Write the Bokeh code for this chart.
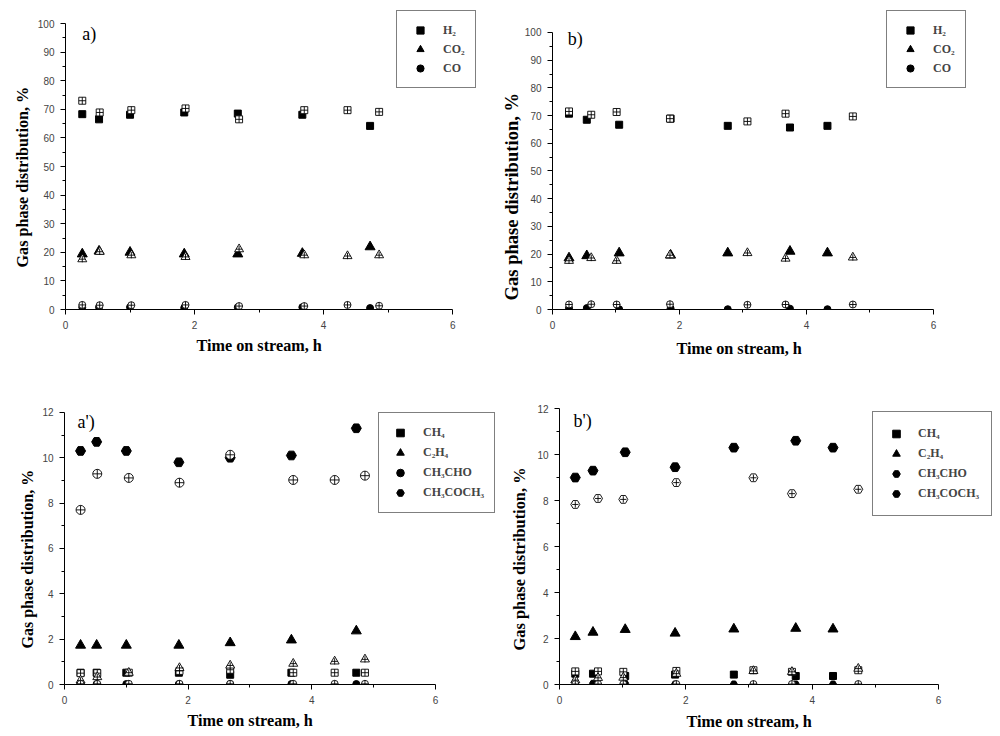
from bokeh.plotting import figure
from bokeh.models import FixedTicker, Legend, LegendItem, Label, Range1d, Title
from bokeh.layouts import row, column
from bokeh.embed import file_html
from bokeh.resources import INLINE

# ---------------- Panel a) ----------------
a_time_filled = [0.26, 0.52, 1.00, 1.84, 2.67, 3.67, 4.72]
a_H2_filled = [68.3, 66.5, 68.1, 68.9, 68.5, 68.1, 64.2]
a_CO2_filled = [19.4, 20.4, 20.0, 19.4, 19.4, 19.6, 21.9]
a_CO_filled = [0.8, 0.8, 0.8, 0.6, 0.8, 0.8, 0.5]
a_time_open = [0.26, 0.53, 1.02, 1.86, 2.69, 3.70, 4.37, 4.86]
a_H2_open = [73.0, 68.9, 69.7, 70.3, 66.5, 69.7, 69.7, 69.1]
a_CO2_open = [17.6, 20.2, 19.0, 18.4, 21.1, 19.0, 18.7, 19.0]
a_CO_open = [1.6, 1.5, 1.5, 1.6, 1.2, 1.2, 1.6, 1.3]

# ---------------- Panel b) ----------------
b_time_filled = [0.26, 0.54, 1.05, 1.86, 2.76, 3.74, 4.33]
b_H2_filled = [70.7, 68.5, 66.7, 68.9, 66.3, 65.7, 66.3]
b_CO2_filled = [18.6, 19.4, 20.4, 19.6, 20.4, 21.0, 20.4]
b_CO_filled = [0.5, 0.5, 0.1, 0.4, 0.1, 0.3, 0.1]
b_time_open = [0.26, 0.61, 1.01, 1.85, 3.07, 3.67, 4.73]
b_H2_open = [71.5, 70.3, 71.3, 68.9, 67.9, 70.7, 69.7]
b_CO2_open = [17.6, 18.6, 17.6, 19.6, 20.4, 18.4, 18.8]
b_CO_open = [1.8, 1.9, 1.8, 1.9, 1.7, 1.8, 1.8]

# ---------------- Panel a') ----------------
c_time_filled = [0.26, 0.52, 1.00, 1.85, 2.68, 3.67, 4.72]
c_CH4_filled = [0.52, 0.52, 0.52, 0.52, 0.43, 0.52, 0.52]
c_C2H4_filled = [1.73, 1.73, 1.73, 1.73, 1.84, 1.96, 2.36]
c_CH3CHO_filled = [0.05, 0.02, 0.02, 0.02, 0.02, 0.02, 0.02]
c_CH3COCH3_filled = [10.3, 10.7, 10.3, 9.8, 10.0, 10.1, 11.3]
c_time_open = [0.26, 0.53, 1.04, 1.86, 2.68, 3.70, 4.37, 4.86]
c_CH4_open = [0.50, 0.50, 0.52, 0.60, 0.65, 0.52, 0.52, 0.52]
c_C2H4_open = [0.18, 0.33, 0.52, 0.73, 0.84, 0.92, 1.02, 1.11]
c_CH3CHO_open = [0.03, 0.03, 0.03, 0.03, 0.03, 0.03, 0.03, 0.03]
c_CH3COCH3_open = [7.70, 9.29, 9.11, 8.90, 10.13, 9.02, 9.02, 9.21]

# ---------------- Panel b') ----------------
d_time_filled = [0.25, 0.53, 1.04, 1.83, 2.76, 3.74, 4.33]
d_CH4_filled = [0.47, 0.47, 0.37, 0.43, 0.43, 0.37, 0.37]
d_C2H4_filled = [2.08, 2.27, 2.39, 2.23, 2.41, 2.44, 2.41]
d_CH3CHO_filled = [0.10, 0.05, 0.05, 0.02, 0.02, 0.02, 0.02]
d_CH3COCH3_filled = [9.00, 9.30, 10.10, 9.45, 10.30, 10.60, 10.30]
d_time_open = [0.25, 0.61, 1.01, 1.85, 3.07, 3.68, 4.73]
d_CH4_open = [0.57, 0.57, 0.55, 0.59, 0.62, 0.55, 0.62]
d_C2H4_open = [0.19, 0.29, 0.30, 0.47, 0.59, 0.55, 0.69]
d_CH3CHO_open = [0.02, 0.02, 0.02, 0.02, 0.02, 0.02, 0.02]
d_CH3COCH3_open = [7.83, 8.09, 8.05, 8.78, 8.99, 8.30, 8.49]

x_ticks = [0, 2, 4, 6]
x_minor = [1, 3, 5]
top_y_ticks = list(range(0, 101, 10))
top_y_minor = list(range(5, 100, 10))
bot_y_ticks = [0, 2, 4, 6, 8, 10, 12]
bot_y_minor = [1, 3, 5, 7, 9, 11]

labels_top = ["H\u2082", "CO\u2082", "CO"]
labels_bot = ["CH\u2084", "C\u2082H\u2084", "CH\u2083CHO", "CH\u2083COCH\u2083"]
x_title = "Time on stream, h"
y_title = "Gas phase distribution, %"

SERIF = "Liberation Serif"
SANS = "Liberation Sans"


def make_fig(w, h, xend, yend, ymax, yt, ym, borders, xt, yt_):
    l, r, t, b = borders
    p = figure(width=w, height=h, output_backend="svg", toolbar_location=None,
               x_range=Range1d(0, xend), y_range=Range1d(0, yend),
               min_border_left=l, min_border_right=r, min_border_top=t,
               min_border_bottom=b)
    p.grid.visible = False
    p.outline_line_color = None
    p.background_fill_color = "white"
    p.border_fill_color = "white"
    p.xaxis.ticker = FixedTicker(ticks=x_ticks, minor_ticks=x_minor)
    p.yaxis.ticker = FixedTicker(ticks=yt, minor_ticks=ym)
    p.xaxis.bounds = (0, 6)
    p.yaxis.bounds = (0, ymax)
    for ax in (p.xaxis, p.yaxis):
        ax.axis_line_color = "black"
        ax.axis_line_width = 1
        ax.major_tick_in = 0
        ax.major_tick_out = 5
        ax.minor_tick_in = 0
        ax.minor_tick_out = 3
        ax.major_tick_line_color = "black"
        ax.minor_tick_line_color = "black"
        ax.major_label_text_font = SANS
        ax.major_label_text_font_size = "10px"
        ax.major_label_text_color = "#444444"
    p.xaxis.major_label_standoff = 6
    p.yaxis.major_label_standoff = 6
    # x title: (offset from frame left, standoff, font size)
    p.add_layout(Title(text=x_title, align="left", offset=xt[0], standoff=xt[1],
                       text_font=SERIF, text_font_style="bold",
                       text_font_size=xt[2], text_color="black"), "below")
    # y title: (offset up from frame bottom, standoff, font size)
    p.add_layout(Title(text=y_title, align="left", offset=yt_[0], standoff=yt_[1],
                       text_font=SERIF, text_font_style="bold",
                       text_font_size=yt_[2], text_color="black"), "left")
    return p


def open_marker(p, x, y, shape, size):
    if shape == "square":
        p.scatter(x, y, marker="square_cross", size=size, fill_color="white",
                  line_color="black", line_width=0.9)
    elif shape == "circle":
        p.scatter(x, y, marker="circle_cross", size=size, fill_color="white",
                  line_color="black", line_width=0.9)
    else:
        p.scatter(x, y, marker=shape, size=size, fill_color="white",
                  line_color="black", line_width=0.9)
        p.scatter(x, y, marker="cross", size=size * 0.7, line_color="black",
                  line_width=0.9)


def add_legend(p, items, loc, pad, gw, gh, sp, standoff):
    leg = Legend(items=items, location=loc, margin=0, padding=pad,
                 spacing=sp, glyph_width=gw, glyph_height=gh, label_height=gh,
                 label_standoff=standoff, label_width=10,
                 border_line_color="black", border_line_width=1,
                 background_fill_color="white", background_fill_alpha=1.0,
                 label_text_font=SERIF, label_text_font_style="bold",
                 label_text_font_size="12px", label_text_baseline="middle")
    p.add_layout(leg)


def panel_label(p, x, y, text):
    p.add_layout(Label(x=x, y=y, text=text, text_font=SERIF,
                       text_font_size="18px", text_baseline="middle",
                       text_color="black"))


# ---- a)
pa = make_fig(498, 368, 6.40, 104.55, 100, top_y_ticks, top_y_minor,
              (65, 20, 10, 59), (131, 6, "16.2px"), (42, 6, "16.2px"))
r1 = pa.scatter(a_time_filled, a_H2_filled, marker="square", size=7, color="black")
r2 = pa.scatter(a_time_filled, a_CO2_filled, marker="triangle", size=10, color="black")
r3 = pa.scatter(a_time_filled, a_CO_filled, marker="circle", size=7, color="black")
open_marker(pa, a_time_open, a_H2_open, "square", 7)
open_marker(pa, a_time_open, a_CO2_open, "triangle", 9)
open_marker(pa, a_time_open, a_CO_open, "circle", 7)
add_legend(pa, [LegendItem(label=labels_top[0], renderers=[r1]),
                LegendItem(label=labels_top[1], renderers=[r2]),
                LegendItem(label=labels_top[2], renderers=[r3])],
           (331, 221), 10, 26, 18, 1, 10)
panel_label(pa, 0.26, 96.5, "a)")

# ---- b)
pb = make_fig(492, 368, 6.52, 107.94, 100, top_y_ticks, top_y_minor,
              (54, 24, 10, 59), (124, 12, "16.2px"), (9, 0, "18.6px"))
s1 = pb.scatter(b_time_filled, b_H2_filled, marker="square", size=7, color="black")
s2 = pb.scatter(b_time_filled, b_CO2_filled, marker="triangle", size=10, color="black")
s3 = pb.scatter(b_time_filled, b_CO_filled, marker="circle", size=7, color="black")
open_marker(pb, b_time_open, b_H2_open, "square", 7)
open_marker(pb, b_time_open, b_CO2_open, "triangle", 9)
open_marker(pb, b_time_open, b_CO_open, "circle", 7)
add_legend(pb, [LegendItem(label=labels_top[0], renderers=[s1]),
                LegendItem(label=labels_top[1], renderers=[s2]),
                LegendItem(label=labels_top[2], renderers=[s3])],
           (334, 221), 10, 26, 18, 1, 10)
panel_label(pb, 0.24, 97.8, "b)")

# ---- a')
pc = make_fig(498, 366, 7.02, 12.26, 12, bot_y_ticks, bot_y_minor,
              (64, 0, 38, 50), (123, 6, "16.2px"), (36, 7, "16px"))
t1 = pc.scatter(c_time_filled, c_CH4_filled, marker="square", size=7, color="black")
t2 = pc.scatter(c_time_filled, c_C2H4_filled, marker="triangle", size=10, color="black")
t3 = pc.scatter(c_time_filled, c_CH3CHO_filled, marker="circle", size=7, color="black")
t4 = pc.scatter(c_time_filled, c_CH3COCH3_filled, marker="hex", size=10, color="black")
open_marker(pc, c_time_open, c_CH4_open, "square", 7)
open_marker(pc, c_time_open, c_C2H4_open, "triangle", 9)
open_marker(pc, c_time_open, c_CH3CHO_open, "circle", 7)
open_marker(pc, c_time_open, c_CH3COCH3_open, "circle", 9)
add_legend(pc, [LegendItem(label=labels_bot[0], renderers=[t1]),
                LegendItem(label=labels_bot[1], renderers=[t2]),
                LegendItem(label=labels_bot[2], renderers=[t3]),
                LegendItem(label=labels_bot[3], renderers=[t4])],
           (314, 171), 10, 22, 19, 1, 12)
panel_label(pc, 0.21, 11.56, "a')")

# ---- b')
pd_ = make_fig(500, 366, 6.95, 12.09, 12, bot_y_ticks, bot_y_minor,
               (61, 0, 38, 50), (127, 8, "16.2px"), (34, 11, "16.4px"))
u1 = pd_.scatter(d_time_filled, d_CH4_filled, marker="square", size=7, color="black")
u2 = pd_.scatter(d_time_filled, d_C2H4_filled, marker="triangle", size=10, color="black")
u3 = pd_.scatter(d_time_filled, d_CH3CHO_filled, marker="hex", size=7, color="black")
u4 = pd_.scatter(d_time_filled, d_CH3COCH3_filled, marker="hex", size=10, color="black")
open_marker(pd_, d_time_open, d_CH4_open, "square", 7)
open_marker(pd_, d_time_open, d_C2H4_open, "triangle", 9)
open_marker(pd_, d_time_open, d_CH3CHO_open, "circle", 7)
open_marker(pd_, d_time_open, d_CH3COCH3_open, "hex", 9)
add_legend(pd_, [LegendItem(label=labels_bot[0], renderers=[u1]),
                 LegendItem(label=labels_bot[1], renderers=[u2]),
                 LegendItem(label=labels_bot[2], renderers=[u3]),
                 LegendItem(label=labels_bot[3], renderers=[u4])],
           (313, 168), 12, 22, 19, 1, 11)
panel_label(pd_, 0.22, 11.48, "b')")

layout = column(row(pa, pb, spacing=0), row(pc, pd_, spacing=0), spacing=0)

open("out.html", "w").write(file_html(layout, INLINE))
